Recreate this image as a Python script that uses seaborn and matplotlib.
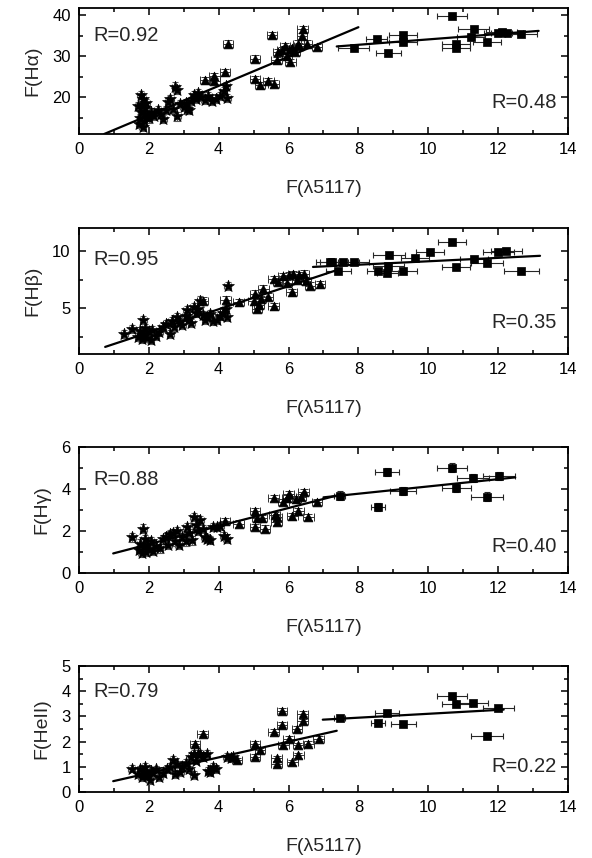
import matplotlib
matplotlib.use('Agg')
import matplotlib.pyplot as plt
from matplotlib.ticker import MultipleLocator
import seaborn as sns

# ---------------- F(Ha) ----------------
ha_star_x = [1.72, 1.75, 1.78, 1.80, 1.82, 1.77, 1.85, 1.88, 1.90, 1.70, 1.83, 1.95, 2.05, 2.15,
             2.25, 2.35, 2.42, 2.50, 2.55, 2.62, 2.68, 2.75, 2.80, 2.82, 2.90, 3.00, 3.10, 3.20,
             3.28, 3.35, 3.42, 3.50, 3.60, 3.70, 3.80, 3.92, 4.05, 4.15, 4.22, 4.25, 1.92, 2.00,
             3.05, 3.15]
ha_star_y = [13.5, 15.0, 16.5, 18.0, 19.5, 20.5, 14.2, 16.0, 17.3, 17.8, 12.8, 15.2, 16.3, 15.5,
             16.8, 15.9, 14.6, 16.8, 18.9, 19.6, 17.2, 22.6, 21.8, 15.3, 18.4, 17.6, 17.0, 19.0,
             20.5, 19.6, 21.0, 20.0, 19.3, 20.2, 19.0, 19.6, 20.2, 21.5, 22.8, 19.8, 18.6, 14.8,
             18.5, 16.8]
ha_tri_x = [3.61, 3.88, 3.88, 4.18, 4.26, 5.04, 5.04, 5.52, 5.57, 5.19, 5.42, 5.66, 5.81, 5.95,
            6.19, 6.40, 6.38, 6.52, 6.81, 6.28, 6.05, 6.10, 5.90, 6.30, 6.00, 5.70]
ha_tri_y = [24.1, 25.1, 24.0, 26.1, 33.1, 29.4, 24.5, 35.2, 23.3, 22.9, 24.0, 29.0, 31.5, 30.0,
            31.1, 36.6, 34.9, 33.1, 32.3, 33.1, 28.6, 32.0, 32.5, 32.5, 31.6, 31.0]
ha_sq_x = [10.68, 7.86, 8.53, 8.86, 9.29, 9.29, 10.79, 10.79, 11.30, 11.22, 11.68, 12.00, 12.25, 12.65, 12.10]
ha_sq_y = [39.8, 32.1, 34.1, 30.8, 35.1, 33.4, 33.1, 31.9, 36.6, 34.7, 33.6, 35.7, 35.7, 35.4, 35.9]
ha_sq_xerr = [0.42, 0.43, 0.30, 0.37, 0.40, 0.40, 0.40, 0.40, 0.45, 0.40, 0.40, 0.40, 0.45, 0.45, 0.45]
ha_fit1_x, ha_fit1_y = [0.72, 8.0], [11.0, 37.1]
ha_fit2_x, ha_fit2_y = [7.38, 13.16], [32.4, 36.2]

# ---------------- F(Hb) ----------------
hb_star_x = [1.29, 1.53, 1.84, 1.70, 1.75, 1.80, 1.85, 1.90, 1.95, 2.00, 2.05, 2.10, 2.20, 2.30,
             2.40, 2.50, 2.61, 2.65, 2.72, 2.80, 2.88, 2.95, 3.05, 3.09, 3.15, 3.22, 3.28, 3.35,
             3.42, 3.47, 3.55, 3.62, 3.66, 3.75, 3.85, 3.94, 4.05, 4.13, 4.20, 4.23, 4.26]
hb_star_y = [2.78, 3.21, 3.93, 2.5, 3.0, 2.3, 2.7, 3.3, 2.4, 2.9, 2.2, 3.1, 2.6, 2.9,
             3.4, 3.6, 2.78, 3.9, 3.4, 4.2, 3.8, 3.5, 4.3, 4.8, 4.1, 3.7, 5.08, 4.6,
             4.9, 5.67, 4.4, 4.0, 4.22, 4.5, 3.9, 4.0, 4.3, 4.6, 4.9, 4.22, 6.97]
hb_tri_x = [4.20, 3.54, 4.57, 5.04, 5.09, 5.20, 5.28, 5.40, 5.57, 5.57, 5.70, 5.85, 5.95, 6.00,
            6.09, 6.14, 6.25, 6.30, 6.43, 6.50, 6.62, 6.90, 5.00, 5.15]
hb_tri_y = [5.73, 5.67, 5.52, 6.25, 4.95, 5.8, 6.68, 6.0, 5.15, 7.55, 7.3, 7.8, 7.2, 7.9,
            6.39, 7.95, 7.5, 7.9, 8.0, 7.4, 6.97, 7.1, 5.6, 5.3]
hb_sq_x = [10.68, 10.06, 8.88, 9.63, 8.86, 8.55, 8.83, 9.29, 7.24, 7.57, 7.86, 7.43, 10.80,
           11.30, 11.68, 12.01, 12.24, 12.66, 7.19]
hb_sq_y = [10.81, 9.94, 9.63, 9.34, 8.70, 8.27, 8.04, 8.21, 9.05, 9.05, 9.05, 8.27, 8.56,
           9.28, 8.90, 9.86, 10.0, 8.21, 9.0]
hb_sq_xerr = [0.40, 0.40, 0.45, 0.40, 0.45, 0.30, 0.30, 0.40, 0.45, 0.45, 0.45, 0.35, 0.40,
              0.40, 0.45, 0.45, 0.45, 0.50, 0.30]
hb_fit1_x, hb_fit1_y = [0.75, 7.33], [1.62, 8.27]
hb_fit2_x, hb_fit2_y = [6.70, 13.2], [8.6, 9.57]

# ---------------- F(Hg) ----------------
hg_star_x = [1.53, 1.84, 1.72, 1.76, 1.80, 1.85, 1.88, 1.92, 1.96, 2.00, 2.05, 2.12, 2.20, 2.32,
             2.42, 2.50, 2.60, 2.70, 2.80, 2.75, 2.85, 2.95, 3.05, 3.09, 3.15, 3.23, 3.28, 3.35,
             3.40, 3.47, 3.55, 3.60, 3.66, 3.75, 3.85, 3.95, 4.05, 4.15, 4.23, 2.55]
hg_star_y = [1.69, 2.11, 1.1, 1.4, 0.95, 1.25, 1.6, 1.0, 1.35, 1.15, 1.5, 1.05, 1.3, 1.17,
             1.6, 1.7, 1.85, 1.9, 2.0, 1.5, 1.35, 1.7, 1.5, 2.19, 1.9, 1.55, 2.66, 2.3,
             2.0, 2.5, 2.1, 1.7, 1.64, 1.56, 2.19, 2.2, 2.25, 1.75, 1.64, 1.35]
hg_tri_x = [4.18, 4.57, 5.04, 5.04, 5.10, 5.23, 5.33, 5.57, 5.60, 5.66, 5.66, 5.85, 5.95, 6.00,
            6.11, 6.20, 6.28, 6.35, 6.43, 6.57, 6.81]
hg_tri_y = [2.46, 2.35, 2.93, 2.19, 2.6, 2.6, 2.11, 3.57, 2.75, 2.66, 2.45, 3.37, 3.55, 3.76,
            2.69, 3.5, 2.93, 3.6, 3.84, 2.66, 3.37]
hg_sq_x = [8.82, 10.68, 11.28, 12.03, 9.27, 10.80, 11.68, 8.55, 7.46]
hg_sq_y = [4.82, 5.02, 4.52, 4.63, 3.89, 4.05, 3.64, 3.13, 3.68]
hg_sq_xerr = [0.35, 0.42, 0.45, 0.45, 0.37, 0.42, 0.45, 0.20, 0.15]
hg_fit1_x, hg_fit1_y = [0.98, 7.48], [0.93, 3.73]
hg_fit2_x, hg_fit2_y = [7.0, 12.49], [3.6, 4.55]

# ---------------- F(HeII) ----------------
he_star_x = [1.51, 1.70, 1.75, 1.80, 1.85, 1.90, 1.95, 2.03, 2.05, 2.12, 2.20, 2.30, 2.40, 2.52,
             2.61, 2.70, 2.75, 2.80, 2.90, 2.95, 3.05, 3.15, 3.22, 3.28, 3.28, 3.35, 3.40, 3.47,
             3.55, 3.66, 3.70, 3.75, 3.85, 3.92, 4.23, 4.35, 4.42]
he_star_y = [0.93, 0.7, 0.9, 0.6, 0.8, 1.0, 0.65, 0.47, 0.85, 0.75, 0.9, 0.6, 0.75, 0.9,
             1.0, 1.26, 0.7, 1.1, 0.8, 1.0, 1.15, 0.9, 1.4, 1.52, 0.67, 1.25, 1.5, 1.5,
             1.4, 1.5, 0.85, 0.8, 1.0, 0.9, 1.39, 1.35, 1.39]
he_tri_x = [3.54, 5.81, 5.81, 5.57, 6.40, 6.40, 6.24, 6.00, 5.85, 6.28, 6.28, 6.11, 6.57, 6.86,
            5.04, 5.04, 5.19, 5.66, 5.66, 4.52, 3.32]
he_tri_y = [2.31, 3.23, 2.66, 2.40, 3.10, 2.80, 2.50, 2.11, 1.85, 1.85, 1.46, 1.19, 1.92, 2.11,
            1.92, 1.40, 1.66, 1.33, 1.13, 1.26, 1.92]
he_sq_x = [10.68, 10.80, 11.27, 12.01, 8.82, 8.55, 9.29, 7.46, 11.68]
he_sq_y = [3.79, 3.49, 3.52, 3.32, 3.14, 2.73, 2.70, 2.94, 2.22]
he_sq_xerr = [0.42, 0.42, 0.45, 0.45, 0.35, 0.20, 0.37, 0.17, 0.45]
he_fit1_x, he_fit1_y = [0.98, 7.38], [0.43, 2.43]
he_fit2_x, he_fit2_y = [6.98, 12.16], [2.87, 3.27]

ylabels = ['F(H\u03b1)', 'F(H\u03b2)', 'F(H\u03b3)', 'F(HeII)']
r_left = ['R=0.92', 'R=0.95', 'R=0.88', 'R=0.79']
r_right = ['R=0.48', 'R=0.35', 'R=0.40', 'R=0.22']
xlabel = 'F(\u03bb5117)'

sns.set_style('ticks')
plt.rcParams['font.family'] = ['Liberation Sans', 'DejaVu Sans']

panels = [
    dict(star=(ha_star_x, ha_star_y), tri=(ha_tri_x, ha_tri_y), sq=(ha_sq_x, ha_sq_y, ha_sq_xerr),
         fits=[(ha_fit1_x, ha_fit1_y), (ha_fit2_x, ha_fit2_y)], ylim=(11, 41.8), major=10, minor=5,
         yerr=(1.0, 0.8, 0.7), ytxt=(0.78, 0.25), bottom=0.8438),
    dict(star=(hb_star_x, hb_star_y), tri=(hb_tri_x, hb_tri_y), sq=(hb_sq_x, hb_sq_y, hb_sq_xerr),
         fits=[(hb_fit1_x, hb_fit1_y), (hb_fit2_x, hb_fit2_y)], ylim=(1, 12), major=5, minor=2.5,
         yerr=(0.35, 0.3, 0.25), ytxt=(0.75, 0.25), bottom=0.5874),
    dict(star=(hg_star_x, hg_star_y), tri=(hg_tri_x, hg_tri_y), sq=(hg_sq_x, hg_sq_y, hg_sq_xerr),
         fits=[(hg_fit1_x, hg_fit1_y), (hg_fit2_x, hg_fit2_y)], ylim=(0, 6), major=2, minor=1,
         yerr=(0.2, 0.15, 0.2), ytxt=(0.745, 0.21), bottom=0.3322),
    dict(star=(he_star_x, he_star_y), tri=(he_tri_x, he_tri_y), sq=(he_sq_x, he_sq_y, he_sq_xerr),
         fits=[(he_fit1_x, he_fit1_y), (he_fit2_x, he_fit2_y)], ylim=(0, 5), major=1, minor=0.5,
         yerr=(0.15, 0.1, 0.07), ytxt=(0.795, 0.2), bottom=0.0769),
]

fig = plt.figure(figsize=(5.92, 8.58), dpi=100)

for i, p in enumerate(panels):
    ax = fig.add_axes([0.1334, p['bottom'], 0.826, 0.1469])
    ey_star, ey_tri, ey_sq = p['yerr']

    # error bars
    ax.errorbar(p['star'][0], p['star'][1], xerr=0.1, yerr=ey_star, fmt='none',
                ecolor='0.35', elinewidth=0.8, capsize=2, capthick=0.8, zorder=1)
    ax.errorbar(p['tri'][0], p['tri'][1], xerr=0.15, yerr=ey_tri, fmt='none',
                ecolor='0.2', elinewidth=0.7, capsize=3, capthick=0.7, zorder=1)
    ax.errorbar(p['sq'][0], p['sq'][1], xerr=p['sq'][2], yerr=ey_sq, fmt='none',
                ecolor='0.15', elinewidth=0.8, capsize=2.5, capthick=0.8, zorder=1)

    # markers
    sns.scatterplot(x=p['star'][0], y=p['star'][1], marker='*', s=80, color='black',
                    edgecolor='black', linewidth=0.5, ax=ax, zorder=3)
    sns.scatterplot(x=p['tri'][0], y=p['tri'][1], marker='^', s=40, color='black',
                    edgecolor='black', linewidth=0.5, ax=ax, zorder=3)
    sns.scatterplot(x=p['sq'][0], y=p['sq'][1], marker='s', s=30, color='black',
                    edgecolor='black', linewidth=0.5, ax=ax, zorder=3)

    # linear fits
    for fx, fy in p['fits']:
        sns.lineplot(x=fx, y=fy, color='black', linewidth=1.6, ax=ax, zorder=4)

    ax.set_xlim(0, 14)
    ax.set_ylim(*p['ylim'])
    ax.xaxis.set_major_locator(MultipleLocator(2))
    ax.xaxis.set_minor_locator(MultipleLocator(1))
    ax.yaxis.set_major_locator(MultipleLocator(p['major']))
    ax.yaxis.set_minor_locator(MultipleLocator(p['minor']))
    ax.tick_params(which='both', direction='in', top=True, right=True, width=1.1,
                   labelsize=12, colors='black')
    ax.tick_params(which='major', length=5, pad=6)
    ax.tick_params(which='minor', length=3)
    for s in ax.spines.values():
        s.set_linewidth(1.3)
        s.set_color('black')

    ax.set_xlabel(xlabel, fontsize=14, labelpad=16)
    ax.set_ylabel(ylabels[i], fontsize=14, labelpad=8)

    ax.text(0.03, p['ytxt'][0], r_left[i], transform=ax.transAxes, fontsize=14.5,
            ha='left', va='center')
    ax.text(0.977, p['ytxt'][1], r_right[i], transform=ax.transAxes, fontsize=14.5,
            ha='right', va='center')

fig.savefig('out.png', dpi=100)
